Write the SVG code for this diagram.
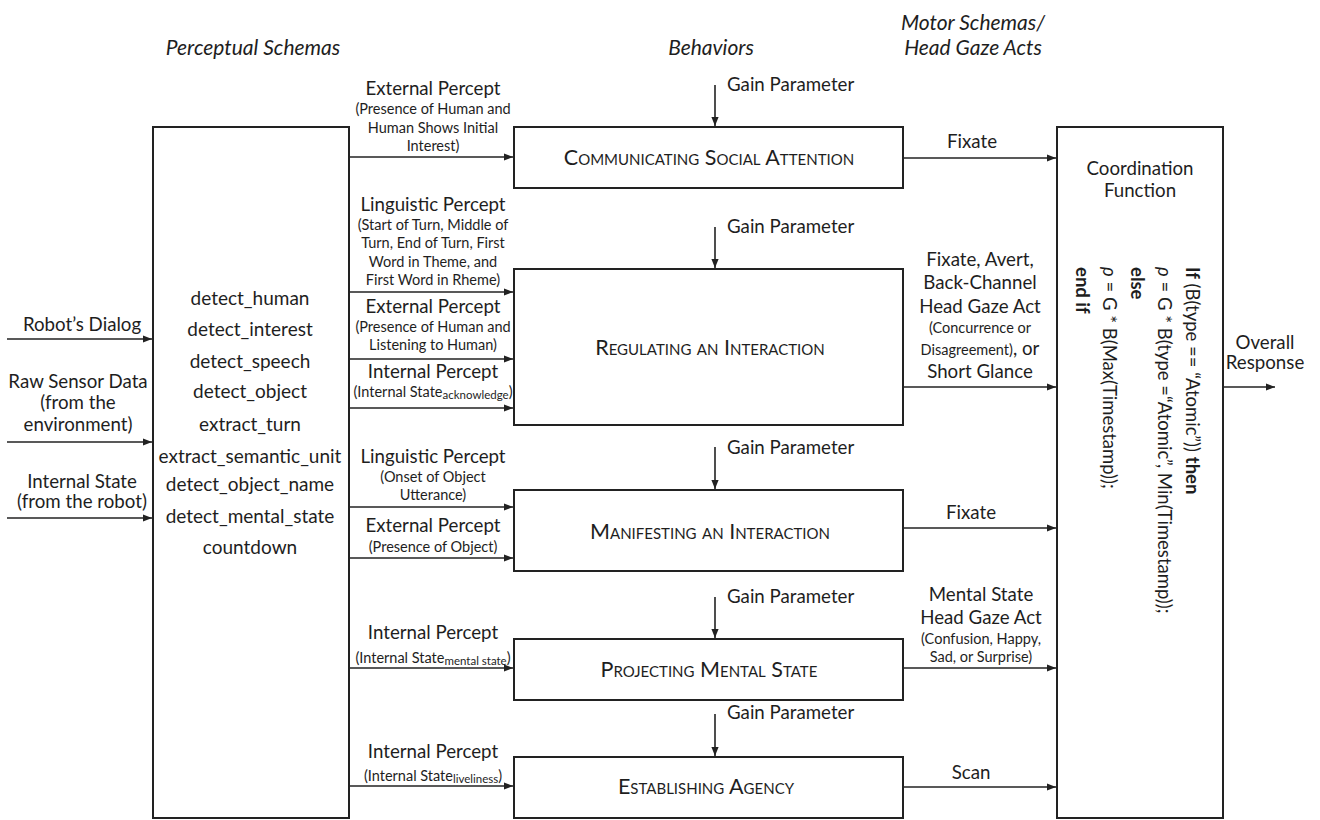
<svg xmlns="http://www.w3.org/2000/svg" width="1320" height="820" viewBox="0 0 1320 820">
<defs>
<marker id="ah" viewBox="0 0 10 10" refX="10" refY="5" markerWidth="9" markerHeight="9" markerUnits="userSpaceOnUse" orient="auto">
<path d="M0,1 L10,5 L0,9 Z" fill="#222"/>
</marker>
<style>
text{font-family:Lato,"Liberation Sans",sans-serif;fill:#1e1e1e;}
.t{font-size:21px;font-style:italic;}
.l{font-size:18.7px;}
.d{font-size:19px;}
.s{font-size:14.5px;}
.sub{font-size:11.5px;}
.m{text-anchor:middle;}
.sc{font-size:21.5px;font-variant:small-caps;text-anchor:middle;}
.box{fill:#fff;stroke:#222;stroke-width:2;}
.ln{fill:none;stroke:#222;stroke-width:1.6;marker-end:url(#ah);}
.b{font-weight:bold;}
.rot{font-size:18.5px;}
</style>
</defs>
<rect width="1320" height="820" fill="#fff"/>

<g id="titles">
<text class="t m" x="253" y="55">Perceptual Schemas</text>
<text class="t m" x="711" y="55">Behaviors</text>
<text class="t m" x="973" y="30">Motor Schemas/</text>
<text class="t m" x="973" y="55">Head Gaze Acts</text>
</g>

<g id="inputs">
<text class="l m" x="82" y="331">Robot’s Dialog</text>
<text class="l m" x="78" y="388">Raw Sensor Data</text>
<text class="l m" x="78" y="409">(from the</text>
<text class="l m" x="78" y="431">environment)</text>
<text class="l m" x="82" y="488">Internal State</text>
<text class="l m" x="82" y="508">(from the robot)</text>
</g>

<g id="perceptual-schemas">
<rect class="box" x="153" y="127" width="196" height="691"/>
<text class="d m" x="250" y="305">detect_human</text>
<text class="d m" x="250" y="336">detect_interest</text>
<text class="d m" x="250" y="368">detect_speech</text>
<text class="d m" x="250" y="398">detect_object</text>
<text class="d m" x="250" y="431">extract_turn</text>
<text class="d m" x="250" y="463">extract_semantic_unit</text>
<text class="d m" x="250" y="491">detect_object_name</text>
<text class="d m" x="250" y="523">detect_mental_state</text>
<text class="d m" x="250" y="554">countdown</text>
</g>

<g id="percept-labels">
<text class="l m" x="433" y="95">External Percept</text>
<text class="s m" x="433" y="114">(Presence of Human and</text>
<text class="s m" x="433" y="133">Human Shows Initial</text>
<text class="s m" x="433" y="151">Interest)</text>

<text class="l m" x="433" y="211">Linguistic Percept</text>
<text class="s m" x="433" y="230">(Start of Turn, Middle of</text>
<text class="s m" x="433" y="248">Turn, End of Turn, First</text>
<text class="s m" x="433" y="267">Word in Theme, and</text>
<text class="s m" x="433" y="285">First Word in Rheme)</text>

<text class="l m" x="433" y="313">External Percept</text>
<text class="s m" x="433" y="332">(Presence of Human and</text>
<text class="s m" x="433" y="350">Listening to Human)</text>

<text class="l m" x="433" y="378">Internal Percept</text>
<text class="s m" x="433" y="397">(Internal State<tspan class="sub" dy="2">acknowledge</tspan><tspan dy="-2">)</tspan></text>

<text class="l m" x="433" y="463">Linguistic Percept</text>
<text class="s m" x="433" y="482">(Onset of Object</text>
<text class="s m" x="433" y="500">Utterance)</text>

<text class="l m" x="433" y="532">External Percept</text>
<text class="s m" x="433" y="552">(Presence of Object)</text>

<text class="l m" x="433" y="639">Internal Percept</text>
<text class="s m" x="433" y="663">(Internal State<tspan class="sub" dy="2">mental state</tspan><tspan dy="-2">)</tspan></text>

<text class="l m" x="433" y="758">Internal Percept</text>
<text class="s m" x="433" y="781">(Internal State<tspan class="sub" dy="2">liveliness</tspan><tspan dy="-2">)</tspan></text>
</g>

<g id="gain-labels">
<text class="l" x="727" y="91">Gain Parameter</text>
<text class="l" x="727" y="233">Gain Parameter</text>
<text class="l" x="727" y="454">Gain Parameter</text>
<text class="l" x="727" y="603">Gain Parameter</text>
<text class="l" x="727" y="719">Gain Parameter</text>
</g>

<g id="b1">
<rect class="box" x="514" y="127" width="389" height="61"/>
<text class="sc" x="709" y="165">Communicating Social Attention</text>
</g>
<g id="b2">
<rect class="box" x="514" y="269" width="389" height="156"/>
<text class="sc" x="710" y="355">Regulating an Interaction</text>
</g>
<g id="b3">
<rect class="box" x="514" y="490" width="389" height="81"/>
<text class="sc" x="710" y="539">Manifesting an Interaction</text>
</g>
<g id="b4">
<rect class="box" x="514" y="639" width="389" height="61"/>
<text class="sc" x="709" y="677">Projecting Mental State</text>
</g>
<g id="b5">
<rect class="box" x="514" y="757" width="389" height="61"/>
<text class="sc" x="706" y="794">Establishing Agency</text>
</g>

<g id="output-labels">
<text class="l m" x="972" y="148">Fixate</text>
<text class="l m" x="980" y="266">Fixate,  Avert,</text>
<text class="l m" x="980" y="289">Back-Channel</text>
<text class="l m" x="980" y="313">Head Gaze Act</text>
<text class="s m" x="980" y="333">(Concurrence or</text>
<text class="m" x="980" y="355"><tspan class="s">Disagreement)</tspan><tspan class="l">, or</tspan></text>
<text class="l m" x="980" y="378">Short Glance</text>
<text class="l m" x="971" y="519">Fixate</text>
<text class="l m" x="981" y="601">Mental State</text>
<text class="l m" x="981" y="624">Head Gaze Act</text>
<text class="s m" x="981" y="644">(Confusion, Happy,</text>
<text class="s m" x="981" y="662">Sad, or Surprise)</text>
<text class="l m" x="971" y="779">Scan</text>
</g>

<g id="coordination">
<rect class="box" x="1057" y="127" width="166" height="691"/>
<text class="l m" x="1140" y="175">Coordination</text>
<text class="l m" x="1140" y="197">Function</text>
<text class="rot" transform="translate(1186,267) rotate(90)"><tspan class="b">If</tspan> (B(type == “Atomic”)) <tspan class="b">then</tspan></text>
<text class="rot" transform="translate(1158,267) rotate(90)"><tspan font-style="italic">ρ</tspan> = G * B(type =“Atomic”, Min(Timestamp));</text>
<text class="rot b" transform="translate(1131,267) rotate(90)">else</text>
<text class="rot" transform="translate(1103,267) rotate(90)"><tspan font-style="italic">ρ</tspan> = G * B(Max(Timestamp));</text>
<text class="rot b" transform="translate(1076,267) rotate(90)">end if</text>
</g>

<g id="output">
<text class="l m" x="1265" y="349">Overall</text>
<text class="l m" x="1265" y="369">Response</text>
</g>

<g id="connectors">
<line class="ln" x1="7" y1="339" x2="152" y2="339"/>
<line class="ln" x1="7" y1="442" x2="152" y2="442"/>
<line class="ln" x1="7" y1="518" x2="152" y2="518"/>

<line class="ln" x1="350" y1="157" x2="513" y2="157"/>
<line class="ln" x1="350" y1="292" x2="513" y2="292"/>
<line class="ln" x1="350" y1="359" x2="513" y2="359"/>
<line class="ln" x1="350" y1="408" x2="513" y2="408"/>
<line class="ln" x1="350" y1="507" x2="513" y2="507"/>
<line class="ln" x1="350" y1="558" x2="513" y2="558"/>
<line class="ln" x1="350" y1="668" x2="513" y2="668"/>
<line class="ln" x1="350" y1="786" x2="513" y2="786"/>

<line class="ln" x1="715" y1="85" x2="715" y2="126"/>
<line class="ln" x1="715" y1="227" x2="715" y2="268"/>
<line class="ln" x1="715" y1="447" x2="715" y2="489"/>
<line class="ln" x1="715" y1="597" x2="715" y2="638"/>
<line class="ln" x1="715" y1="714" x2="715" y2="756"/>

<line class="ln" x1="904" y1="158" x2="1056" y2="158"/>
<line class="ln" x1="904" y1="387" x2="1056" y2="387"/>
<line class="ln" x1="904" y1="528" x2="1056" y2="528"/>
<line class="ln" x1="904" y1="668" x2="1056" y2="668"/>
<line class="ln" x1="904" y1="787" x2="1056" y2="787"/>

<line class="ln" x1="1224" y1="387" x2="1275" y2="387"/>
</g>
</svg>
